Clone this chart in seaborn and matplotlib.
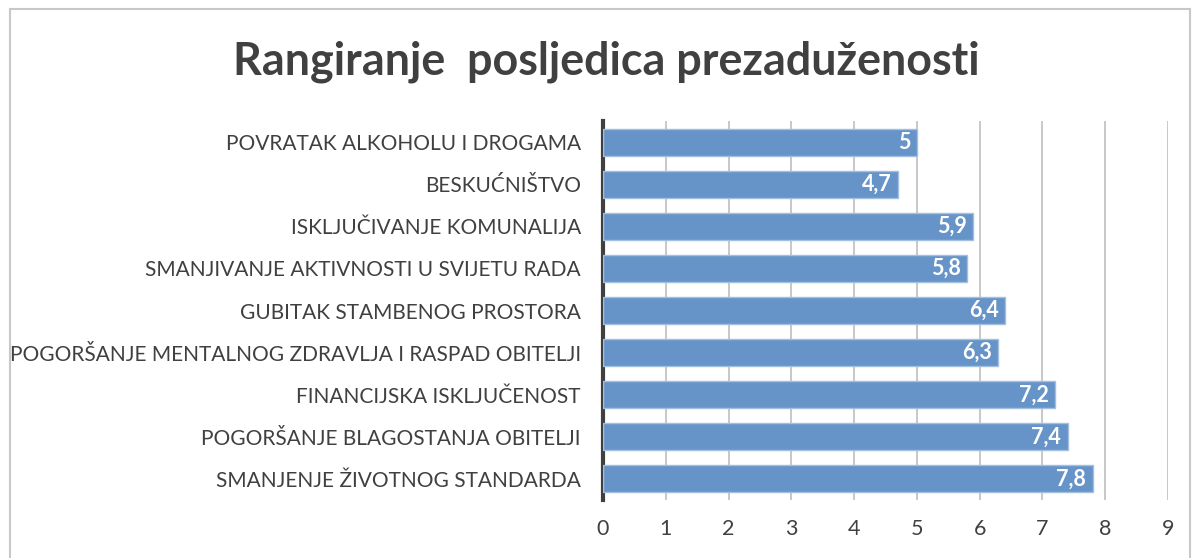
import matplotlib
matplotlib.use("Agg")
import matplotlib.pyplot as plt
import seaborn as sns
import pandas as pd

categories = [
    "POVRATAK ALKOHOLU I DROGAMA",
    "BESKUĆNIŠTVO",
    "ISKLJUČIVANJE KOMUNALIJA",
    "SMANJIVANJE AKTIVNOSTI U SVIJETU RADA",
    "GUBITAK STAMBENOG PROSTORA",
    "POGORŠANJE MENTALNOG ZDRAVLJA I RASPAD OBITELJI",
    "FINANCIJSKA ISKLJUČENOST",
    "POGORŠANJE BLAGOSTANJA OBITELJI",
    "SMANJENJE ŽIVOTNOG STANDARDA",
]
values = [5.0, 4.7, 5.9, 5.8, 6.4, 6.3, 7.2, 7.4, 7.8]
value_labels = ["5", "4,7", "5,9", "5,8", "6,4", "6,3", "7,2", "7,4", "7,8"]
x_ticks = [0, 1, 2, 3, 4, 5, 6, 7, 8, 9]
title = "Rangiranje  posljedica prezaduženosti"

sns.set_theme(style="white")
plt.rcParams["font.family"] = ["Lato", "DejaVu Sans"]

df = pd.DataFrame({"cat": categories, "val": values})

fig = plt.figure(figsize=(12, 5.58), dpi=100)
ax = fig.add_axes([0.5025, 0.104, 0.4708, 0.679])

sns.barplot(data=df, x="val", y="cat", orient="h", color="#6794c8",
            saturation=1, width=0.64, edgecolor="#a3bfe0", linewidth=1.0,
            ax=ax, zorder=3)

ax.set_xlim(0, 9)
ax.set_xticks(x_ticks)
ax.set_xticklabels([str(t) for t in x_ticks])
ax.xaxis.grid(True, color="#bfbfbf", linewidth=1.2, zorder=0)
ax.set_axisbelow(True)
ax.set_xlabel("")
ax.set_ylabel("")
for s in ["top", "right", "bottom"]:
    ax.spines[s].set_visible(False)
ax.spines["left"].set_color("#404040")
ax.spines["left"].set_linewidth(3)
ax.tick_params(axis="x", length=0, pad=14, labelsize=15.5, labelcolor="#404040")
ax.tick_params(axis="y", length=0, pad=16, labelsize=15.0, labelcolor="#404040")

for i, (v, lab) in enumerate(zip(values, value_labels)):
    ax.text(v - 0.1, i, lab, ha="right", va="center", color="white",
            fontsize=15.5, fontweight="bold", zorder=5)

fig.text(0.505, 0.89, title, ha="center", va="center", fontsize=32.3,
         fontweight="bold", color="#404040")

border = plt.Rectangle((0.008, -0.01), 0.984, 0.994, transform=fig.transFigure,
                       fill=False, edgecolor="#c8c8c8", linewidth=1.5)
fig.patches.append(border)

fig.savefig("out.png", dpi=100, facecolor="white")
